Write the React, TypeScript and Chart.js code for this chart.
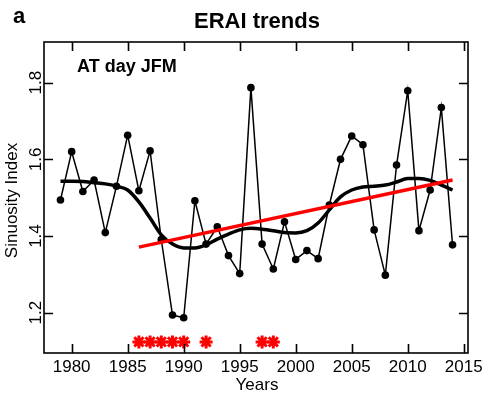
import React, { useEffect, useRef } from "react";
import { Chart, registerables } from "chart.js";

Chart.register(...registerables);

const years: number[] = [
  1979, 1980, 1981, 1982, 1983, 1984, 1985, 1986, 1987, 1988, 1989, 1990,
  1991, 1992, 1993, 1994, 1995, 1996, 1997, 1998, 1999, 2000, 2001, 2002,
  2003, 2004, 2005, 2006, 2007, 2008, 2009, 2010, 2011, 2012, 2013, 2014,
];
const sinuosity: number[] = [
  1.494, 1.62, 1.516, 1.546, 1.409, 1.53, 1.663, 1.518, 1.622, 1.391, 1.194, 1.187,
  1.492, 1.379, 1.424, 1.349, 1.302, 1.787, 1.379, 1.314, 1.437, 1.339, 1.362, 1.341,
  1.481, 1.6, 1.661, 1.638, 1.416, 1.298, 1.585, 1.779, 1.414, 1.52, 1.735, 1.377,
];
const smoothed: number[] = [
  1.543, 1.543, 1.542, 1.539, 1.536, 1.53, 1.52, 1.489, 1.447, 1.403, 1.379, 1.369,
  1.369, 1.377, 1.392, 1.405, 1.416, 1.42, 1.418, 1.414, 1.409, 1.408, 1.414, 1.434,
  1.468, 1.502, 1.52, 1.528, 1.53, 1.533, 1.541, 1.55, 1.55, 1.545, 1.533, 1.52,
];
const trendYears: number[] = [1986, 2014];
const trendValues: number[] = [1.371, 1.546];
const starYears: number[] = [1986, 1987, 1988, 1989, 1990, 1992, 1997, 1998];
const starLevel: number[] = [1.124, 1.124, 1.124, 1.124, 1.124, 1.124, 1.124, 1.124];

const xTicks: number[] = [1980, 1985, 1990, 1995, 2000, 2005, 2010, 2015];
const yTicks: number[] = [1.2, 1.4, 1.6, 1.8];
const yTickLabels: string[] = ["1.2", "1.4", "1.6", "1.8"];

const title = "ERAI trends";
const panelLabel = "a";
const insetLabel = "AT day JFM";
const xTitle = "Years";
const yTitle = "Sinuosity Index";

const FONT = "'Liberation Sans', Arial, Helvetica, sans-serif";

const framePlugin = {
  id: "framePlugin",
  afterDraw(chart: any) {
    const ctx = chart.ctx as CanvasRenderingContext2D;
    const { left, right, top, bottom } = chart.chartArea;
    const xs = chart.scales.x;
    const ys = chart.scales.y;
    const tl = 9;
    ctx.save();
    ctx.strokeStyle = "#000";
    ctx.lineWidth = 1.6;
    ctx.strokeRect(left, top, right - left, bottom - top);
    ctx.beginPath();
    xTicks.forEach((t) => {
      const px = Math.round(xs.getPixelForValue(t)) + 0.5;
      ctx.moveTo(px, bottom);
      ctx.lineTo(px, bottom - tl);
      ctx.moveTo(px, top);
      ctx.lineTo(px, top + tl);
    });
    yTicks.forEach((t) => {
      const py = Math.round(ys.getPixelForValue(t)) + 0.5;
      ctx.moveTo(left, py);
      ctx.lineTo(left + tl, py);
      ctx.moveTo(right, py);
      ctx.lineTo(right - tl, py);
    });
    ctx.stroke();

    ctx.fillStyle = "#000";
    // x tick labels
    ctx.font = `17px ${FONT}`;
    ctx.textAlign = "center";
    ctx.textBaseline = "middle";
    xTicks.forEach((t) => {
      ctx.fillText(String(t), xs.getPixelForValue(t), 367);
    });
    // y tick labels (rotated)
    yTicks.forEach((t, i) => {
      const py = ys.getPixelForValue(t);
      ctx.save();
      ctx.translate(41, py);
      ctx.rotate(-Math.PI / 2);
      ctx.textAlign = "center";
      ctx.textBaseline = "alphabetic";
      ctx.fillText(yTickLabels[i], 0, 0);
      ctx.restore();
    });
    // axis titles
    ctx.textBaseline = "middle";
    ctx.fillText(xTitle, (left + right) / 2 + 1, 385);
    ctx.save();
    ctx.translate(17, (top + bottom) / 2 + 3);
    ctx.rotate(-Math.PI / 2);
    ctx.textAlign = "center";
    ctx.textBaseline = "alphabetic";
    ctx.fillText(yTitle, 0, 0);
    ctx.restore();

    // title and panel label
    ctx.font = `bold 22px ${FONT}`;
    ctx.textAlign = "center";
    ctx.textBaseline = "alphabetic";
    ctx.fillText(title, 257, 28);
    ctx.textAlign = "left";
    ctx.fillText(panelLabel, 13, 23);
    // inset label
    ctx.font = `bold 18px ${FONT}`;
    ctx.fillText(insetLabel, 77, 71.5);
    ctx.restore();
  },
};

export default function App() {
  const ref = useRef<HTMLCanvasElement | null>(null);
  useEffect(() => {
    if (!ref.current) return;
    const chart = new Chart(ref.current, {
      type: "line",
      data: {
        datasets: [
          {
            label: "trend",
            data: trendYears.map((x, i) => ({ x, y: trendValues[i] })),
            borderColor: "#ff0000",
            borderWidth: 3.5,
            pointRadius: 0,
            fill: false,
          },
          {
            label: "significant",
            data: starYears.map((x, i) => ({ x, y: starLevel[i] })),
            showLine: false,
            pointStyle: "star",
            pointRadius: 6.5,
            borderColor: "#ff0000",
            backgroundColor: "#ff0000",
            pointBorderWidth: 3,
          },
          {
            label: "sinuosity",
            data: years.map((x, i) => ({ x, y: sinuosity[i] })),
            borderColor: "#000",
            borderWidth: 1.5,
            pointRadius: 3.8,
            pointBackgroundColor: "#000",
            pointBorderColor: "#000",
            pointBorderWidth: 0,
            tension: 0,
            fill: false,
          },
          {
            label: "smooth",
            data: years.map((x, i) => ({ x, y: smoothed[i] })),
            borderColor: "#000",
            borderWidth: 3.5,
            pointRadius: 0,
            cubicInterpolationMode: "monotone",
            fill: false,
          },
        ],
      },
      options: {
        animation: false,
        responsive: false,
        devicePixelRatio: 1,
        layout: { padding: { left: 44, right: 18, top: 42, bottom: 40 } },
        plugins: {
          legend: { display: false },
          tooltip: { enabled: false },
          title: { display: false },
        },
        scales: {
          x: { type: "linear", min: 1977.53, max: 2015.38, display: false },
          y: { type: "linear", min: 1.095, max: 1.906, display: false },
        },
      },
      plugins: [framePlugin],
    });
    return () => chart.destroy();
  }, []);
  return (
    <div style={{ position: "fixed", left: 0, top: 0, width: 486, height: 393, background: "#fff" }}>
      <canvas ref={ref} width={486} height={393} style={{ width: 486, height: 393, display: "block" }} />
    </div>
  );
}
